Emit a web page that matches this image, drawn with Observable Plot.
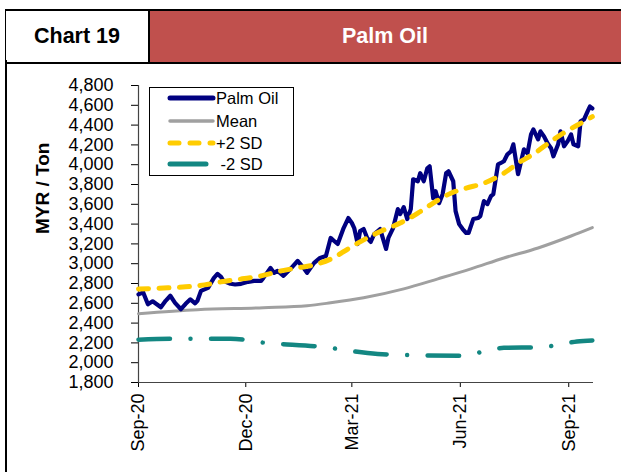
<!DOCTYPE html>
<html><head><meta charset="utf-8">
<script src="https://cdn.jsdelivr.net/npm/d3@7"></script>
<script src="https://cdn.jsdelivr.net/npm/@observablehq/plot@0.6"></script>
<style>
body{margin:0;background:#fff;font-family:"Liberation Sans",Arial,sans-serif;}
#wrap{position:relative;width:621px;height:472px;overflow:hidden;background:#fff;}
#hdr{position:absolute;left:5px;top:9px;width:620px;height:51px;border-top:2px solid #000;border-bottom:2px solid #000;border-left:1.5px solid #000;display:flex;}
#hl{width:142px;border-right:2px solid #000;display:flex;align-items:center;justify-content:center;font-weight:bold;font-size:21.5px;color:#000;}
#hr{flex:1;background:#C0504D;display:flex;align-items:center;justify-content:center;font-weight:bold;font-size:21.5px;color:#fff;padding-right:6px;}
#fl{position:absolute;left:5px;top:60px;width:1.5px;height:420px;background:#000;}
#chart{position:absolute;left:0;top:63px;}
#legend{position:absolute;left:149px;top:87px;width:143px;height:87px;border:1px solid #000;background:#fff;}
</style></head><body>
<div id="wrap">
  <div id="hdr"><div id="hl">Chart 19</div><div id="hr">Palm Oil</div></div>
  <div id="fl"></div>
  <div id="chart"></div>
  <div id="legend"></div>
</div>
<script>
// ---- data ----
const palmDates = ["2020-09-01","2020-09-05","2020-09-09","2020-09-13","2020-09-20","2020-09-24","2020-09-28","2020-10-02","2020-10-07","2020-10-11","2020-10-15","2020-10-19","2020-10-21","2020-10-24","2020-10-30","2020-11-04","2020-11-07","2020-11-10","2020-11-12","2020-11-18","2020-11-22","2020-11-27","2020-12-03","2020-12-08","2020-12-14","2020-12-16","2020-12-22","2020-12-25","2020-12-28","2021-01-02","2021-01-08","2021-01-14","2021-01-19","2021-01-22","2021-01-28","2021-02-02","2021-02-07","2021-02-11","2021-02-14","2021-02-17","2021-02-22","2021-02-26","2021-03-01","2021-03-03","2021-03-06","2021-03-08","2021-03-11","2021-03-14","2021-03-17","2021-03-20","2021-03-23","2021-03-25","2021-03-30","2021-04-01","2021-04-05","2021-04-09","2021-04-11","2021-04-14","2021-04-17","2021-04-20","2021-04-22","2021-04-26","2021-04-28","2021-05-01","2021-05-04","2021-05-06","2021-05-09","2021-05-11","2021-05-14","2021-05-17","2021-05-20","2021-05-22","2021-05-26","2021-05-28","2021-05-31","2021-06-03","2021-06-06","2021-06-08","2021-06-12","2021-06-16","2021-06-18","2021-06-21","2021-06-24","2021-06-27","2021-06-29","2021-07-03","2021-07-05","2021-07-08","2021-07-11","2021-07-14","2021-07-16","2021-07-20","2021-07-22","2021-07-25","2021-07-28","2021-07-31","2021-08-02","2021-08-06","2021-08-08","2021-08-11","2021-08-14","2021-08-17","2021-08-19","2021-08-23","2021-08-25","2021-08-28","2021-08-31","2021-09-03","2021-09-05","2021-09-09","2021-09-11","2021-09-14","2021-09-17","2021-09-19","2021-09-21"];
const palmValues = [2690,2710,2590,2620,2560,2625,2676,2605,2540,2595,2640,2600,2625,2726,2756,2857,2897,2867,2827,2797,2790,2797,2817,2827,2827,2857,2958,2907,2927,2877,2948,3028,2958,2907,3008,3058,3078,3260,3229,3199,3360,3461,3411,3360,3199,3330,3350,3260,3220,3300,3330,3350,3149,3260,3360,3551,3501,3572,3451,3551,3853,3833,3914,3833,3964,3984,3662,3733,3612,3702,3914,3934,3833,3531,3400,3350,3310,3310,3451,3461,3481,3632,3602,3682,3702,4004,4015,4035,4105,4135,4206,3904,4004,4155,4115,4306,4357,4256,4337,4286,4216,4166,4085,4206,4337,4186,4236,4306,4206,4186,4437,4457,4538,4588,4568];

const meanDates = ["2020-09-01","2020-10-21","2020-12-16","2021-01-22","2021-02-11","2021-03-11","2021-04-14","2021-05-13","2021-06-10","2021-07-08","2021-08-06","2021-09-03","2021-09-21"];
const meanValues = [2495,2535,2555,2575,2605,2656,2746,2847,2948,3058,3159,3280,3365];

const upperDates = ["2020-09-01","2020-09-26","2020-10-11","2020-10-27","2020-11-10","2020-11-28","2020-12-14","2020-12-31","2021-01-14","2021-01-28","2021-02-13","2021-02-27","2021-03-14","2021-03-26","2021-04-11","2021-04-26","2021-05-09","2021-05-24","2021-06-06","2021-06-21","2021-07-08","2021-07-20","2021-08-03","2021-08-17","2021-08-30","2021-09-14","2021-09-21"];
const upperValues = [2745,2756,2766,2786,2817,2847,2877,2927,2958,2988,3058,3159,3260,3330,3410,3511,3612,3712,3763,3813,3914,4015,4115,4236,4337,4437,4485];

const lowerDates = ["2020-09-01","2020-10-01","2020-11-18","2020-12-16","2021-02-02","2021-03-23","2021-04-29","2021-06-03","2021-06-23","2021-07-08","2021-08-07","2021-08-24","2021-09-08","2021-09-21"];
const lowerValues = [2233,2243,2243,2203,2162,2088,2075,2070,2120,2150,2155,2182,2215,2225];

const yTicks = [1800,2000,2200,2400,2600,2800,3000,3200,3400,3600,3800,4000,4200,4400,4600,4800];
const xTickDates = ["2020-09-01","2020-12-01","2021-03-01","2021-06-01","2021-09-01"];
const xDomainDates = ["2020-09-01","2021-09-22"];
const seriesNames = ["Palm Oil","Mean","+2 SD"," -2 SD"];
const yLabel = "MYR / Ton";

// ---- build ----
const toRows = (ds, vs) => ds.map((d, i) => ({date: new Date(d), value: vs[i]}));
const palm = toRows(palmDates, palmValues);
const mean = toRows(meanDates, meanValues);
const upper = toRows(upperDates, upperValues);
const lower = toRows(lowerDates, lowerValues);
const xDomain = xDomainDates.map(d => new Date(d));

const C = {palm: "#000080", mean: "#A0A0A0", upper: "#FFCC00", lower: "#138782"};

const chart = Plot.plot({
  width: 621, height: 409,
  marginLeft: 138, marginRight: 28, marginTop: 22, marginBottom: 90,
  style: {fontFamily: "'Liberation Sans', Arial, sans-serif", fontSize: "18px", color: "#000", background: "transparent", overflow: "visible"},
  x: {type: "utc", domain: xDomain, ticks: xTickDates.map(d => new Date(d)), tickFormat: d3.utcFormat("%b-%y"), tickRotate: -90, tickSize: 5, tickPadding: 6, label: null},
  y: {domain: [1800, 4800], ticks: yTicks, tickFormat: d3.format(","), tickSize: 7, tickPadding: 18, label: null},
  marks: [
    Plot.ruleX([xDomain[0]], {stroke: "#444", strokeWidth: 1.2}),
    Plot.ruleY([1800], {stroke: "#444", strokeWidth: 1.2}),
    Plot.line(mean, {x: "date", y: "value", stroke: C.mean, strokeWidth: 3, curve: "monotone-x"}),
    Plot.line(lower, {x: "date", y: "value", stroke: C.lower, strokeWidth: 4.5, curve: "monotone-x", strokeLinecap: "round", strokeDasharray: "31.5,20.5,0.01,20.5"}),
    Plot.line(palm, {x: "date", y: "value", stroke: C.palm, strokeWidth: 4.2, strokeLinejoin: "round"}),
    Plot.line(upper, {x: "date", y: "value", stroke: C.upper, strokeWidth: 5, curve: "monotone-x", strokeLinecap: "round", strokeDasharray: "10,10.5"}),
    Plot.text([yLabel], {text: d => d, frameAnchor: "left", dx: -96, rotate: -90, fontWeight: "bold", fontSize: 19})
  ]
});
document.getElementById("chart").appendChild(chart);

// ---- legend ----
const lg = d3.select("#legend").append("svg").attr("width", 143).attr("height", 87)
  .style("font-family", "'Liberation Sans', Arial, sans-serif").style("font-size", "16.5px");
const entries = [
  {name: seriesNames[0], color: C.palm, w: 5, dash: null, y: 10, x2: 63, tx: 66},
  {name: seriesNames[1], color: C.mean, w: 3.5, dash: null, y: 33, x2: 63, tx: 66},
  {name: seriesNames[2], color: C.upper, w: 5, dash: "9,11", y: 55, x2: 63, tx: 66},
  {name: seriesNames[3], color: C.lower, w: 5, dash: null, y: 76, x2: 56, tx: 66}
];
entries.forEach(e => {
  const l = lg.append("line").attr("x1", 20).attr("x2", e.x2).attr("y1", e.y).attr("y2", e.y)
    .attr("stroke", e.color).attr("stroke-width", e.w).attr("stroke-linecap", "round");
  if (e.dash) l.attr("stroke-dasharray", e.dash);
  lg.append("text").attr("x", e.tx).attr("y", e.y).attr("dy", "0.35em").attr("xml:space", "preserve").style("white-space", "pre").text(e.name);
});
</script>
</body></html>
